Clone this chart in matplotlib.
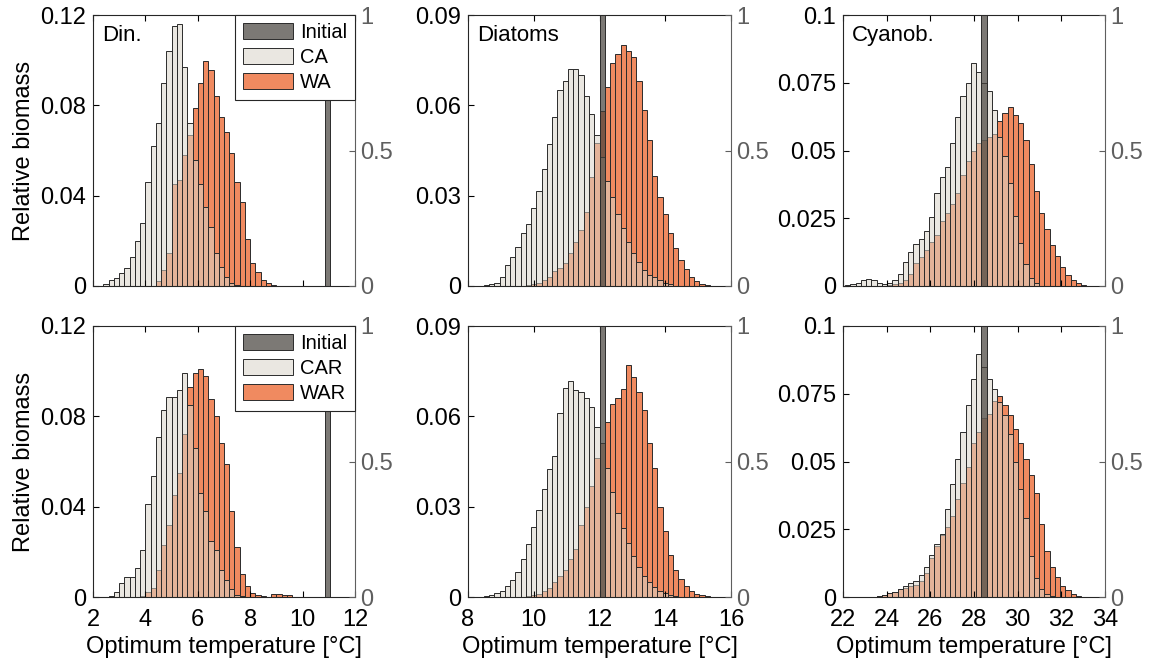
import numpy as np
import matplotlib
matplotlib.use('Agg')
import matplotlib.pyplot as plt
from matplotlib.patches import Patch

plt.rcParams['font.family'] = ['Liberation Sans', 'DejaVu Sans']

# ---- Dinoflagellates (bin width 0.2 degC) ----
din_width = 0.2
din_ca_start = 2.4
din_ca = [0.001, 0.0027, 0.0037, 0.0056, 0.008, 0.013, 0.020, 0.028, 0.046, 0.062,
          0.072, 0.090, 0.104, 0.115, 0.116, 0.097, 0.072, 0.056, 0.045, 0.035,
          0.026, 0.0145, 0.0085, 0.004, 0.0015, 0.0005]
din_wa_start = 4.4
din_wa = [0.002, 0.007, 0.0145, 0.045, 0.047, 0.058, 0.067, 0.079, 0.090, 0.0996,
          0.0956, 0.084, 0.075, 0.068, 0.059, 0.046, 0.037, 0.021, 0.010, 0.0064,
          0.0027, 0.0012, 0.0004]
din_car_start = 2.6
din_car = [0.0005, 0.002, 0.006, 0.0089, 0.009, 0.013, 0.021, 0.041, 0.0536, 0.071,
           0.083, 0.0885, 0.0886, 0.0915, 0.099, 0.085, 0.066, 0.046, 0.038, 0.025,
           0.021, 0.012, 0.0074, 0.0037, 0.001, 0.0005]
din_war_start = 3.8
din_war = [0.0005, 0.002, 0.004, 0.012, 0.023, 0.032, 0.045, 0.055, 0.072, 0.093,
           0.099, 0.101, 0.098, 0.0875, 0.080, 0.068, 0.059, 0.038, 0.022, 0.010,
           0.005, 0.0018, 0.0009, 0.0004, 0.0002, 0.0012, 0.0012, 0.001, 0.0008]
din_init = 10.95

# ---- Diatoms (bin width 0.16 degC) ----
dia_width = 0.16
dia_ca_start = 8.48
dia_ca = [0.0003, 0.0006, 0.001, 0.003, 0.007, 0.0097, 0.013, 0.0175, 0.0206, 0.026,
          0.0315, 0.039, 0.047, 0.056, 0.065, 0.068, 0.072, 0.072, 0.070, 0.063,
          0.057, 0.050, 0.043, 0.035, 0.0297, 0.024, 0.0194, 0.0147, 0.0108, 0.0079,
          0.0053, 0.0037, 0.0031, 0.002, 0.001, 0.0005]
dia_wa_start = 9.76
dia_wa = [0.0003, 0.0005, 0.001, 0.002, 0.003, 0.005, 0.006, 0.0075, 0.011, 0.0147,
          0.0186, 0.0247, 0.0363, 0.0476, 0.058, 0.066, 0.074, 0.077, 0.080, 0.078,
          0.076, 0.068, 0.0585, 0.0485, 0.0365, 0.0297, 0.024, 0.0177, 0.0125, 0.0086,
          0.0055, 0.0031, 0.0018, 0.0008, 0.0003]
dia_car_start = 8.48
dia_car = [0.0003, 0.0006, 0.0012, 0.002, 0.0035, 0.0055, 0.0083, 0.0127, 0.0177, 0.0232,
           0.0288, 0.036, 0.0426, 0.0467, 0.061, 0.0695, 0.0717, 0.0686, 0.068, 0.066,
           0.063, 0.0565, 0.051, 0.043, 0.035, 0.028, 0.023, 0.018, 0.0135, 0.010,
           0.007, 0.005, 0.0033, 0.002, 0.0012, 0.0006, 0.0003]
dia_war_start = 9.76
dia_war = [0.0003, 0.0006, 0.001, 0.002, 0.003, 0.005, 0.007, 0.009, 0.0125, 0.016,
           0.024, 0.030, 0.037, 0.046, 0.051, 0.058, 0.064, 0.066, 0.069, 0.077,
           0.073, 0.068, 0.062, 0.051, 0.043, 0.030, 0.022, 0.014, 0.009, 0.006,
           0.0035, 0.002, 0.001, 0.0005, 0.0002]
dia_init = 12.08

# ---- Cyanobacteria (bin width 0.24 degC) ----
cy_width = 0.24
cy_ca_start = 22.1
cy_ca = [0.0002, 0.0006, 0.0012, 0.0022, 0.0026, 0.0022, 0.0012, 0.0006, 0.0012, 0.0022,
         0.0044, 0.0087, 0.0124, 0.0155, 0.0172, 0.0203, 0.0256, 0.0342, 0.0403, 0.0438,
         0.0526, 0.0625, 0.070, 0.075, 0.0824, 0.079, 0.075, 0.072, 0.065, 0.055,
         0.048, 0.038, 0.026, 0.016, 0.008, 0.003, 0.001]
cy_wa_start = 24.02
cy_wa = [0.0003, 0.0006, 0.0012, 0.0022, 0.0044, 0.0084, 0.0108, 0.0133, 0.0163, 0.0188,
         0.0241, 0.0268, 0.0303, 0.0342, 0.041, 0.0462, 0.050, 0.0526, 0.054, 0.055,
         0.056, 0.061, 0.064, 0.066, 0.063, 0.060, 0.054, 0.045, 0.035, 0.027,
         0.021, 0.015, 0.011, 0.007, 0.004, 0.0022, 0.001, 0.0004]
cy_car_start = 23.54
cy_car = [0.0003, 0.0008, 0.0015, 0.002, 0.003, 0.004, 0.005, 0.006, 0.008, 0.011,
          0.0154, 0.0197, 0.0234, 0.0326, 0.0418, 0.051, 0.061, 0.0707, 0.0806, 0.0898,
          0.085, 0.0806, 0.0769, 0.072, 0.067, 0.060, 0.050, 0.040, 0.029, 0.015,
          0.007, 0.003, 0.001, 0.0005]
cy_war_start = 23.54
cy_war = [0.0003, 0.0008, 0.0015, 0.002, 0.0028, 0.0035, 0.004, 0.0045, 0.006, 0.009,
          0.0145, 0.019, 0.023, 0.026, 0.030, 0.036, 0.042, 0.048, 0.057, 0.061,
          0.066, 0.0676, 0.0725, 0.074, 0.071, 0.067, 0.062, 0.057, 0.051, 0.045,
          0.0385, 0.027, 0.017, 0.011, 0.0075, 0.004, 0.0025, 0.0012, 0.0004]
cy_init = 28.46

group_names = ['Din.', 'Diatoms', 'Cyanob.']
xlims = [(2, 12), (8, 16), (22, 34)]
xticks = [[2, 4, 6, 8, 10, 12], [8, 10, 12, 14, 16], [22, 24, 26, 28, 30, 32, 34]]
ylims = [0.12, 0.09, 0.1]
yticks = [[0, 0.04, 0.08, 0.12], [0, 0.03, 0.06, 0.09], [0, 0.025, 0.05, 0.075, 0.1]]
ytick_labels = [['0', '0.04', '0.08', '0.12'], ['0', '0.03', '0.06', '0.09'],
                ['0', '0.025', '0.05', '0.075', '0.1']]
rticks = [0, 0.5, 1]
rtick_labels = ['0', '0.5', '1']

top_row = [(din_ca_start, din_ca, din_wa_start, din_wa, din_width, din_init),
           (dia_ca_start, dia_ca, dia_wa_start, dia_wa, dia_width, dia_init),
           (cy_ca_start, cy_ca, cy_wa_start, cy_wa, cy_width, cy_init)]
bottom_row = [(din_car_start, din_car, din_war_start, din_war, din_width, din_init),
              (dia_car_start, dia_car, dia_war_start, dia_war, dia_width, dia_init),
              (cy_car_start, cy_car, cy_war_start, cy_war, cy_width, cy_init)]
legend_labels = [['Initial', 'CA', 'WA'], ['Initial', 'CAR', 'WAR']]

# colours
warm_col = '#f08a60'
cold_col = (0.85, 0.835, 0.79, 0.55)
init_col = (0.27, 0.255, 0.23, 0.7)
edge_col = '#2b2b2b'
right_col = '#5f5f5f'

fig = plt.figure(figsize=(11.57, 6.71), dpi=100)
W, H = 1157, 671
col_left = [93, 468, 843]
col_width = [262, 263, 262]
row_top = [15, 326]
row_h = 271

for r, row in enumerate([top_row, bottom_row]):
    for c, (cs, cv, ws, wv, bw, t0) in enumerate(row):
        ax = fig.add_axes([col_left[c] / W, 1 - (row_top[r] + row_h) / H,
                           col_width[c] / W, row_h / H])
        xw = ws + bw * np.arange(len(wv))
        xc = cs + bw * np.arange(len(cv))
        ax.bar(xw, wv, width=bw, align='edge', color=warm_col,
               edgecolor=edge_col, linewidth=0.7)
        ax.bar(xc, cv, width=bw, align='edge', color=cold_col,
               edgecolor=edge_col, linewidth=0.7)
        ax.set_xlim(*xlims[c])
        ax.set_ylim(0, ylims[c])
        ax.set_xticks(xticks[c])
        ax.set_yticks(yticks[c])
        ax.set_yticklabels(ytick_labels[c])
        ax.tick_params(direction='in', length=4, width=0.8, top=True,
                       labelsize=17)
        ax.tick_params(axis='y', pad=5)
        ax.tick_params(axis='x', pad=9)
        if r == 0:
            ax.tick_params(labelbottom=False)
        else:
            ax.set_xlabel('Optimum temperature [°C]', fontsize=17, labelpad=3)
        if c == 0:
            ax.set_ylabel('Relative biomass', fontsize=17, labelpad=4)
        if r == 0:
            ax.text(0.035, 0.925, group_names[c], transform=ax.transAxes,
                    fontsize=16, va='center', ha='left')
        for s in ['left', 'bottom', 'top']:
            ax.spines[s].set_color('#262626')
            ax.spines[s].set_linewidth(0.8)
        ax.spines['right'].set_visible(False)

        ax2 = ax.twinx()
        ax2.bar([t0], [1], width=bw, color=init_col, edgecolor=edge_col, linewidth=0.7)
        ax2.set_ylim(0, 1)
        ax2.set_yticks(rticks)
        ax2.set_yticklabels(rtick_labels)
        ax2.tick_params(axis='y', direction='in', length=4, width=0.8,
                        colors=right_col, labelsize=17, pad=4)
        for s in ['left', 'bottom', 'top']:
            ax2.spines[s].set_visible(False)
        ax2.spines['right'].set_color(right_col)
        ax2.spines['right'].set_linewidth(0.8)

        if c == 0:
            handles = [Patch(facecolor=init_col, edgecolor=edge_col, linewidth=0.7),
                       Patch(facecolor=cold_col, edgecolor=edge_col, linewidth=0.7),
                       Patch(facecolor=warm_col, edgecolor=edge_col, linewidth=0.7)]
            leg = ax2.legend(handles, legend_labels[r], loc='upper right',
                             borderaxespad=0, fancybox=False, framealpha=1,
                             edgecolor='#262626', fontsize=14.5, handlelength=2.45,
                             handleheight=0.8, handletextpad=0.35,
                             labelspacing=0.3, borderpad=0.4)
            leg.get_frame().set_linewidth(0.8)

fig.savefig('out.png', dpi=100)
